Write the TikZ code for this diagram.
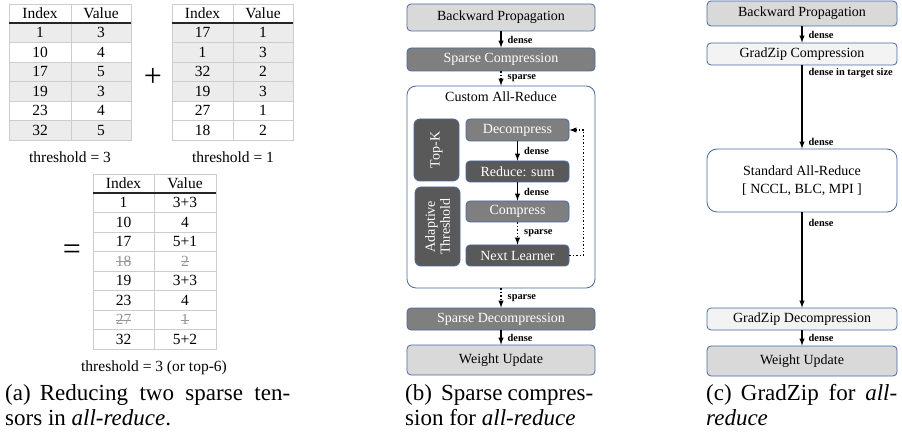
\documentclass[tikz,border=0pt]{standalone}
\usepackage{fontspec}
\setmainfont{Liberation Serif}

\definecolor{edgeblue}{RGB}{72,104,160}
\definecolor{boxlight}{RGB}{217,217,217}
\definecolor{boxmid}{RGB}{127,127,127}
\definecolor{boxdark}{RGB}{89,89,89}
\definecolor{boxpale}{RGB}{243,243,243}
\definecolor{rowgray}{RGB}{236,236,236}
\definecolor{linegray}{RGB}{205,205,205}
\definecolor{strikegray}{RGB}{150,150,150}

\newlength\crosslen
\newcommand{\crossed}[1]{\settowidth{\crosslen}{#1}\textcolor{strikegray}{\rlap{#1}\rule[0.28em]{\crosslen}{0.6pt}}}

\tikzset{
  cell/.style={font=\fontsize{15.5}{17}\selectfont, inner sep=0pt},
  tabline/.style={linegray, line width=0.8pt},
  tabhead/.style={black!85, line width=1.3pt},
  block/.style={draw=edgeblue, line width=0.8pt, rounded corners=4pt, minimum width=188pt,
    inner sep=0pt, font=\fontsize{14}{16}\selectfont},
  inner/.style={block, minimum width=103pt, fill=boxmid, text=white},
  side/.style={block, minimum height=45pt, fill=boxdark, text=white, rounded corners=6pt,
    rotate=90, align=center, font=\fontsize{14}{15}\selectfont},
  flow/.style={->, >=latex, line width=1.4pt},
  sflow/.style={flow, dotted},
  lbl/.style={font=\fontsize{10.4}{12}\selectfont\bfseries, inner sep=1pt, anchor=west, xshift=5pt},
  capt/.style={font=\fontsize{23}{25}\selectfont, align=left, inner sep=0pt, anchor=north west},
}

\begin{document}
\begin{tikzpicture}[x=1pt, y=-1pt]
  \useasboundingbox (0,0) rectangle (902,438);

  %% (a) tables
  % first tensor
  \foreach \k/\v/\s [count=\r] in {1/3/1,10/4/0,17/5/1,19/3/1,23/4/0,32/5/1} {
    \ifnum\s=1 \fill[rowgray] (9,{23+(\r-1)*19.5}) rectangle (131,{23+\r*19.5}); \fi
    \node[cell] (ta-k\r) at (40,{23+(\r-0.5)*19.5}) {\k};
    \node[cell] (ta-v\r) at (101,{23+(\r-0.5)*19.5}) {\v};
  }
  \foreach \r in {1,...,5} \draw[tabline] (9,{23+\r*19.5}) -- (131,{23+\r*19.5});
  \draw[tabline] (9,4) rectangle (131,140);
  \draw[tabline] (71,4) -- (71,140);
  \draw[tabhead] (9,23) -- (131,23);
  \node[cell] (ta-hk) at (40,13.5) {Index};
  \node[cell] (ta-hv) at (101,13.5) {Value};
  \node[cell] (ta-th) at (70,157) {threshold = 3};

  % second tensor
  \foreach \k/\v/\s [count=\r] in {17/1/1,1/3/1,32/2/1,19/3/1,27/1/0,18/2/0} {
    \ifnum\s=1 \fill[rowgray] (172,{23+(\r-1)*19.5}) rectangle (293,{23+\r*19.5}); \fi
    \node[cell] (tb-k\r) at (202.5,{23+(\r-0.5)*19.5}) {\k};
    \node[cell] (tb-v\r) at (263,{23+(\r-0.5)*19.5}) {\v};
  }
  \foreach \r in {1,...,5} \draw[tabline] (172,{23+\r*19.5}) -- (293,{23+\r*19.5});
  \draw[tabline] (172,4) rectangle (293,140);
  \draw[tabline] (233,4) -- (233,140);
  \draw[tabhead] (172,23) -- (293,23);
  \node[cell] (tb-hk) at (202.5,13.5) {Index};
  \node[cell] (tb-hv) at (263,13.5) {Value};
  \node[cell] (tb-th) at (233,157) {threshold = 1};

  \node[font=\fontsize{32}{32}\selectfont, inner sep=0pt] (plus) at (153,77) {+};

  % result
  \foreach \k/\v [count=\r] in {1/3+3,10/4,17/5+1,\crossed{18}/\crossed{2},19/3+3,23/4,\crossed{27}/\crossed{1},32/5+2} {
    \node[cell] (tc-k\r) at (123.5,{193+(\r-0.5)*19.5}) {\k};
    \node[cell] (tc-v\r) at (185,{193+(\r-0.5)*19.5}) {\v};
  }
  \foreach \r in {1,...,7} \draw[tabline] (93,{193+\r*19.5}) -- (216,{193+\r*19.5});
  \draw[tabline] (93,174) rectangle (216,349);
  \draw[tabline] (154,174) -- (154,349);
  \draw[tabhead] (93,193) -- (216,193);
  \node[cell] (tc-hk) at (123.5,183.5) {Index};
  \node[cell] (tc-hv) at (185,183.5) {Value};
  \node[cell] (tc-th) at (154,368) {threshold = 3 (or top-6)};

  \node[font=\fontsize{32}{32}\selectfont, inner sep=0pt] (equal) at (72,252) {=};

  \node[capt] (capa) at (5,384) {\makebox[285pt][s]{(a)\hspace{0.4em}Reducing two sparse ten-}\\sors in \emph{all-reduce}.};

  %% (b) sparse compression
  \node[block, fill=boxlight, minimum height=27pt] (bp1) at (501,17.5) {Backward Propagation};
  \node[block, fill=boxmid, text=white, minimum height=23pt] (sc) at (501,59.5) {Sparse Compression};
  \node[block, fill=white, minimum height=202pt, rounded corners=9pt] (car) at (501,187) {};
  \node[font=\fontsize{14}{16}\selectfont, inner sep=0pt] (cart) at (501,97) {Custom All-Reduce};
  \node[side, minimum width=62pt] (topk) at (436.5,150) {Top-K};
  \node[side, minimum width=79pt] (adapt) at (437.5,226.5) {Adaptive\\Threshold};
  \node[inner, minimum height=22pt] (dec) at (517.5,130) {Decompress};
  \node[inner, fill=boxdark, minimum height=21pt] (red) at (517.5,171.5) {Reduce: sum};
  \node[inner, minimum height=21pt] (comp) at (517.5,211.5) {Compress};
  \node[inner, fill=boxdark, minimum height=21pt] (nl) at (517.5,255.5) {Next Learner};
  \node[block, fill=boxmid, text=white, minimum height=22pt] (sd) at (501,319) {Sparse Decompression};
  \node[block, fill=boxlight, minimum height=30pt] (wu1) at (501,360) {Weight Update};

  \draw[flow] (bp1) -- node[lbl] (l1) {dense} (sc);
  \draw[sflow] (sc) -- node[lbl] (l2) {sparse} (car);
  \draw[flow] (dec) -- node[lbl] (l3) {dense} (red);
  \draw[flow] (red) -- node[lbl] (l4) {dense} (comp);
  \draw[sflow] (comp) -- node[lbl] (l5) {sparse} (nl);
  \draw[sflow] (nl.east) -- ++(14,0) |- (dec.east);
  \draw[sflow] (car) -- node[lbl] (l6) {sparse} (sd);
  \draw[flow] (sd) -- node[lbl] (l7) {dense} (wu1);

  \node[capt] (capb) at (405,384) {\makebox[188pt][s]{(b)\hspace{0.4em}Sparse compres-}\\sion for \emph{all-reduce}};

  %% (c) gradzip
  \node[block, fill=boxlight, minimum width=190pt, minimum height=25pt] (bp2) at (802,13.5) {Backward Propagation};
  \node[block, fill=boxpale, minimum width=190pt, minimum height=22pt] (gzc) at (802,54) {GradZip Compression};
  \node[block, fill=white, minimum width=190pt, minimum height=63pt, rounded corners=10pt, align=center]
    (sar) at (802,180.5) {Standard All-Reduce\\[2pt] [ NCCL, BLC, MPI ]};
  \node[block, fill=boxpale, minimum width=190pt, minimum height=22pt] (gzd) at (802,319) {GradZip Decompression};
  \node[block, fill=boxlight, minimum width=190pt, minimum height=30pt] (wu2) at (802,361) {Weight Update};

  \draw[flow] (bp2) -- node[lbl] (m1) {dense} (gzc);
  \draw[flow] (gzc) -- node[lbl, pos=0.09] (m2) {dense in target size} node[lbl, pos=0.92] (m3) {dense} (sar);
  \draw[flow] (sar) -- node[lbl, pos=0.11] (m4) {dense} (gzd);
  \draw[flow] (gzd) -- node[lbl] (m5) {dense} (wu2);

  \node[capt] (capc) at (706,384) {\makebox[191pt][s]{(c)\hspace{0.4em}GradZip for \emph{all-}}\\\emph{reduce}};
\end{tikzpicture}
\end{document}
